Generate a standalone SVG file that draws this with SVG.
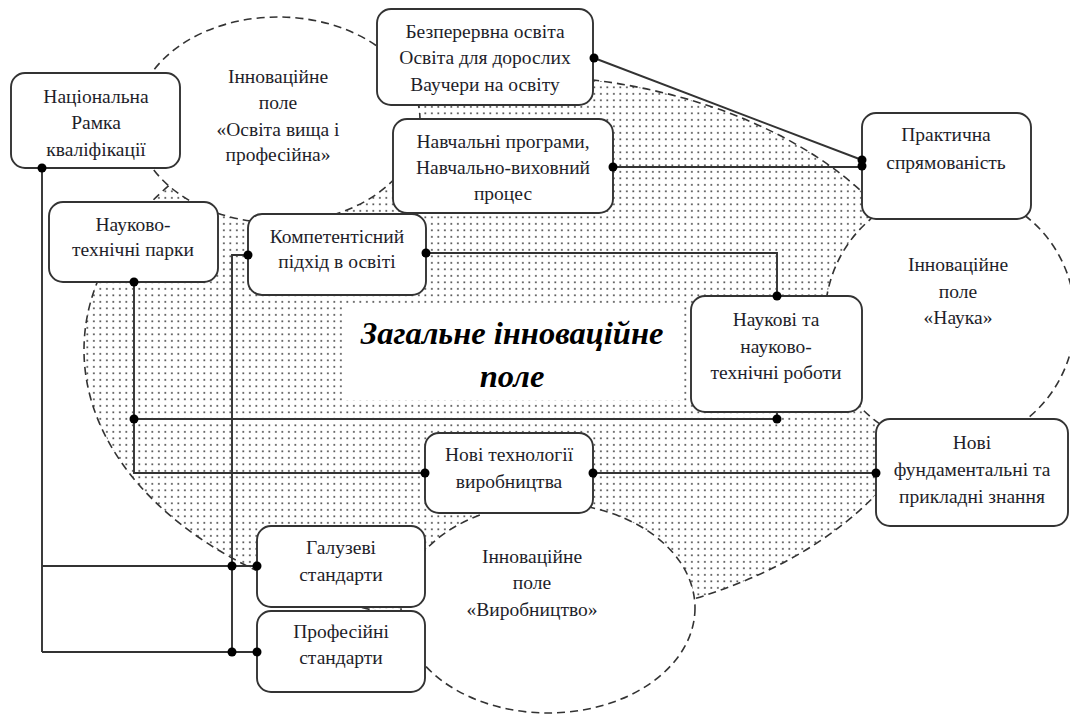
<svg xmlns="http://www.w3.org/2000/svg" width="1070" height="715" viewBox="0 0 1070 715">
<defs>
<pattern id="dots" width="6.5" height="6.5" patternUnits="userSpaceOnUse"><rect x="2" y="2" width="1.7" height="1.7" fill="#4a4a4a"/></pattern>
<style>
.field{stroke:#333;stroke-width:1.6;stroke-dasharray:8 5}
.box{fill:#fff;stroke:#333;stroke-width:1.9}
.t{font-family:"Liberation Serif","Times New Roman",serif;font-size:19.5px;fill:#1e1e2a;text-anchor:middle}
.big{font-family:"Liberation Serif","Times New Roman",serif;font-size:32.5px;font-weight:bold;font-style:italic;fill:#000;text-anchor:middle}
.ln{fill:none;stroke:#333;stroke-width:1.9}
.dot{fill:#000}
</style>
</defs>
<rect width="1070" height="715" fill="#fff"/>
<g id="fields">
<ellipse id="general-field" class="field" cx="512" cy="350" rx="428" ry="275" fill="url(#dots)"/>
<ellipse id="field-osvita" class="field" cx="278" cy="120" rx="142" ry="103" fill="#fff"/>
<ellipse id="field-nauka" class="field" cx="950" cy="318" rx="125" ry="128" fill="#fff"/>
<ellipse id="field-vyrobnytstvo" class="field" cx="548" cy="608" rx="147" ry="105" fill="#fff"/>
<text class="t" x="278" y="83">Інноваційне</text>
<text class="t" x="278" y="109">поле</text>
<text class="t" x="278" y="136">«Освіта вища і</text>
<text class="t" x="278" y="161">професійна»</text>
<text class="t" x="958" y="271">Інноваційне</text>
<text class="t" x="958" y="298">поле</text>
<text class="t" x="958" y="324">«Наука»</text>
<text class="t" x="532" y="563">Інноваційне</text>
<text class="t" x="532" y="589">поле</text>
<text class="t" x="532" y="616">«Виробництво»</text>
</g>
<g id="title">
<rect x="345" y="303" width="335" height="97" fill="#fff"/>
<text class="big" x="512" y="344">Загальне інноваційне</text>
<text class="big" x="512" y="387">поле</text>
</g>
<g id="connectors">
<path class="ln" d="M42,168 V652 M42,566 H257 M42,652 H257"/>
<path class="ln" d="M248,255 H232 V652"/>
<path class="ln" d="M134,282 V473 H425 M134,419 H777 V412"/>
<path class="ln" d="M426,253 H777 V296"/>
<path class="ln" d="M593,473 H876"/>
<path class="ln" d="M594,58 L862,160"/>
<path class="ln" d="M613,167 H862"/>
</g>
<g id="n-nrk"><rect class="box" x="11" y="73" width="169" height="95" rx="14"/>
<text class="t" x="96" y="103">Національна</text><text class="t" x="96" y="129">Рамка</text><text class="t" x="96" y="156">кваліфікації</text></g>
<g id="n-bezperervna"><rect class="box" x="377" y="9" width="216" height="96" rx="14"/>
<text class="t" x="485" y="38">Безперервна освіта</text><text class="t" x="485" y="64">Освіта для дорослих</text><text class="t" x="485" y="91">Ваучери на освіту</text></g>
<g id="n-navchalni"><rect class="box" x="393" y="119" width="220" height="94" rx="14"/>
<text class="t" x="503" y="148">Навчальні програми,</text><text class="t" x="503" y="174">Навчально-виховний</text><text class="t" x="503" y="200">процес</text></g>
<g id="n-praktychna"><rect class="box" x="862" y="113" width="169" height="106" rx="14"/>
<text class="t" x="946" y="141">Практична</text><text class="t" x="946" y="169">спрямованість</text></g>
<g id="n-parky"><rect class="box" x="49" y="202" width="169" height="80" rx="14"/>
<text class="t" x="133" y="231">Науково-</text><text class="t" x="133" y="256">технічні парки</text></g>
<g id="n-kompetent"><rect class="box" x="248" y="214" width="178" height="81" rx="14"/>
<text class="t" x="337" y="243">Компетентісний</text><text class="t" x="337" y="268">підхід в освіті</text></g>
<g id="n-naukovi"><rect class="box" x="691" y="296" width="171" height="116" rx="14"/>
<text class="t" x="776" y="326">Наукові та</text><text class="t" x="776" y="353">науково-</text><text class="t" x="776" y="379">технічні роботи</text></g>
<g id="n-tekhnologii"><rect class="box" x="425" y="433" width="168" height="80" rx="14"/>
<text class="t" x="509" y="461">Нові технології</text><text class="t" x="509" y="488">виробництва</text></g>
<g id="n-znannia"><rect class="box" x="876" y="419" width="192" height="107" rx="14"/>
<text class="t" x="972" y="449">Нові</text><text class="t" x="972" y="476">фундаментальні та</text><text class="t" x="972" y="503">прикладні знання</text></g>
<g id="n-galuzevi"><rect class="box" x="257" y="526" width="168" height="81" rx="14"/>
<text class="t" x="341" y="554">Галузеві</text><text class="t" x="341" y="581">стандарти</text></g>
<g id="n-profesiini"><rect class="box" x="257" y="611" width="168" height="81" rx="14"/>
<text class="t" x="341" y="638">Професійні</text><text class="t" x="341" y="664">стандарти</text></g>
<g id="junctions">
<circle class="dot" cx="42" cy="168" r="4.5"/>
<circle class="dot" cx="134" cy="282" r="4.5"/>
<circle class="dot" cx="134" cy="419" r="4.5"/>
<circle class="dot" cx="777" cy="419" r="4.5"/>
<circle class="dot" cx="248" cy="255" r="4.5"/>
<circle class="dot" cx="426" cy="253" r="4.5"/>
<circle class="dot" cx="777" cy="296" r="4.5"/>
<circle class="dot" cx="232" cy="566" r="4.5"/>
<circle class="dot" cx="257" cy="566" r="4.5"/>
<circle class="dot" cx="232" cy="652" r="4.5"/>
<circle class="dot" cx="257" cy="652" r="4.5"/>
<circle class="dot" cx="425" cy="473" r="4.5"/>
<circle class="dot" cx="593" cy="473" r="4.5"/>
<circle class="dot" cx="876" cy="473" r="4.5"/>
<circle class="dot" cx="594" cy="58" r="4.5"/>
<circle class="dot" cx="613" cy="167" r="4.5"/>
<circle class="dot" cx="862" cy="160" r="4.5"/>
<circle class="dot" cx="862" cy="166" r="4.5"/>
</g>
</svg>
